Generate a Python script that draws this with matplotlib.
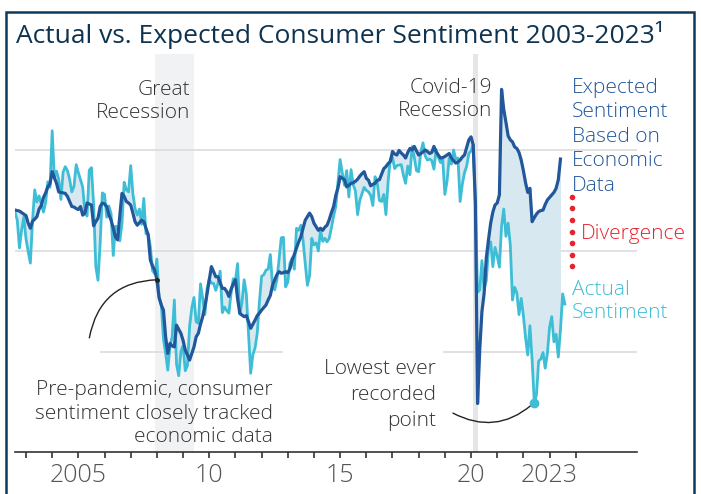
import numpy as np
import matplotlib
matplotlib.use('Agg')
import matplotlib.pyplot as plt
from matplotlib.patches import Rectangle

plt.rcParams['font.family'] = ['Open Sans', 'DejaVu Sans']

# monthly series, first value = Aug 2002
start_year, start_month = 2002, 8

actual = [
    87.6, 86.1, 80.6, 84.2, 86.7,                                      # 2002 (Aug-Dec)
    82.4, 79.9, 77.6, 86.0, 92.1, 89.7, 90.9, 89.3, 87.7, 89.6, 93.7, 92.6,   # 2003
    103.8, 94.4, 95.8, 94.2, 90.2, 95.6, 96.7, 95.9, 94.2, 91.7, 92.8, 97.1,  # 2004
    95.5, 94.1, 92.6, 87.7, 86.9, 96.0, 96.5, 89.1, 76.9, 74.2, 81.6, 91.5,   # 2005
    91.2, 86.7, 88.9, 87.4, 79.1, 84.9, 84.7, 82.0, 85.4, 93.6, 92.1, 91.7,   # 2006
    96.9, 91.3, 88.4, 87.1, 88.3, 85.3, 90.4, 83.4, 83.4, 80.9, 76.1, 75.5,   # 2007
    78.4, 70.8, 69.5, 62.6, 59.8, 56.4, 61.2, 63.0, 70.3, 57.6, 55.3, 60.1,   # 2008
    61.2, 56.3, 57.3, 65.1, 68.7, 70.8, 66.0, 65.7, 73.5, 70.6, 67.4, 72.5,   # 2009
    74.4, 73.6, 73.6, 72.2, 73.6, 76.0, 67.8, 68.9, 68.2, 67.7, 71.6, 74.5,   # 2010
    74.2, 77.5, 67.5, 69.8, 74.3, 71.5, 63.7, 55.8, 59.5, 60.8, 63.7, 69.9,   # 2011
    75.0, 75.3, 76.2, 76.4, 79.3, 73.2, 72.3, 74.3, 78.3, 82.6, 82.7, 72.9,   # 2012
    73.8, 77.6, 78.6, 76.4, 84.5, 84.1, 85.1, 82.1, 77.5, 73.2, 75.1, 82.5,   # 2013
    81.2, 81.6, 80.0, 84.1, 81.9, 82.5, 81.8, 82.5, 84.6, 86.9, 88.8, 93.6,   # 2014
    98.1, 95.4, 93.0, 95.9, 90.7, 96.1, 93.1, 91.9, 87.2, 90.0, 91.3, 92.6,   # 2015
    92.0, 91.7, 91.0, 89.0, 94.7, 93.5, 90.0, 89.8, 91.2, 87.2, 93.8, 98.2,   # 2016
    98.5, 96.3, 96.9, 97.0, 97.1, 95.0, 93.4, 96.8, 95.1, 100.7, 98.5, 95.9,  # 2017
    95.7, 99.7, 101.4, 98.8, 98.0, 98.2, 97.9, 96.2, 100.1, 98.6, 97.5, 98.3, # 2018
    91.2, 93.8, 98.4, 97.2, 100.0, 98.2, 98.4, 89.8, 93.2, 95.5, 96.8, 99.3,  # 2019
    99.8, 101.0, 89.1, 71.8, 72.3, 78.1, 72.5, 74.1, 80.4, 81.8, 76.9, 80.7,  # 2020
    79.0, 76.8, 84.9, 88.3, 82.9, 85.5, 81.2, 70.3, 72.8, 71.7, 67.4, 70.6,   # 2021
    67.2, 62.8, 59.4, 65.2, 58.4, 50.0, 51.5, 58.2, 58.6, 59.9, 56.8, 59.7,   # 2022
    64.9, 67.0, 62.0, 63.5, 59.0, 64.4, 71.5, 69.5,                           # 2023 (Jan-Aug)
]

expected = [
    88.1, 88.0, 87.9, 87.6, 87.3,                                      # 2002 (Aug-Dec)
    87.0, 85.5, 84.5, 85.9, 86.3, 86.8, 88.3, 89.0, 90.6, 91.5, 92.7, 93.3,   # 2003
    95.7, 94.5, 93.4, 91.7, 91.6, 91.5, 91.4, 90.8, 89.8, 88.8, 88.7, 88.4,   # 2004
    88.2, 88.8, 87.1, 87.5, 89.5, 89.3, 89.1, 85.0, 85.8, 86.5, 88.8, 89.5,   # 2005
    89.3, 88.8, 87.2, 86.1, 84.5, 82.8, 82.2, 87.0, 91.4, 90.8, 89.8, 89.5,   # 2006
    89.1, 87.5, 85.8, 85.1, 85.6, 86.1, 85.8, 84.5, 83.2, 78.2, 77.0, 76.2,   # 2007
    74.3, 70.8, 69.3, 68.3, 63.0, 59.7, 61.7, 61.2, 61.0, 65.3, 64.5, 63.7,   # 2008
    62.3, 60.4, 59.4, 58.4, 59.7, 61.0, 63.0, 63.7, 65.5, 67.0, 69.0, 71.5,   # 2009
    74.3, 76.9, 75.9, 74.9, 74.9, 73.7, 72.6, 72.6, 72.0, 71.0, 72.4, 73.5,   # 2010
    74.3, 70.5, 67.7, 67.3, 67.0, 67.2, 66.0, 64.7, 65.5, 66.3, 67.2, 67.7,   # 2011
    68.3, 68.8, 69.3, 70.3, 71.2, 73.2, 74.3, 75.3, 75.9, 75.6, 75.7, 75.9,   # 2012
    75.7, 76.5, 78.2, 79.3, 80.6, 81.8, 82.8, 84.5, 86.1, 86.8, 87.5, 86.8,   # 2013
    85.5, 84.8, 84.1, 84.5, 84.1, 84.7, 85.1, 86.2, 87.6, 88.8, 91.0, 92.5,   # 2014
    94.7, 94.4, 94.1, 92.7, 93.0, 93.4, 93.5, 93.8, 94.2, 94.8, 95.3, 95.7,   # 2015
    94.4, 94.0, 92.9, 93.2, 93.4, 94.0, 94.1, 95.2, 96.3, 96.7, 97.3, 97.7,   # 2016
    99.7, 99.2, 99.0, 99.9, 99.4, 99.0, 98.4, 99.5, 100.3, 100.0, 100.7, 99.8,  # 2017
    99.0, 99.3, 99.6, 100.0, 99.7, 99.3, 99.5, 100.7, 99.6, 99.0, 98.4, 98.5,  # 2018
    98.7, 99.0, 99.3, 98.4, 97.9, 97.4, 97.6, 98.0, 98.6, 99.0, 100.5, 102.0,  # 2019
    102.6, 101.0, 89.5, 49.8, 60.5, 68.0, 71.6, 78.6, 82.2, 85.5, 87.7, 89.1,  # 2020
    89.5, 91.1, 112.0, 108.0, 105.5, 102.8, 102.0, 101.6, 100.6, 100.3, 99.5, 98.0,  # 2021
    95.9, 93.5, 91.6, 92.4, 85.8, 86.6, 87.3, 87.8, 88.0, 88.1, 89.2, 90.1,   # 2022
    90.6, 91.1, 91.6, 92.4, 94.1, 98.2,                                       # 2023 (Jan-Jun)
]

great_recession = (2007.917, 2009.417)
covid_recession = (2020.083, 2020.25)
grid_levels = [100, 80, 60]
tick_years = list(range(2003, 2025))
tick_labels = {2005: '2005', 2010: '10', 2015: '15', 2020: '20', 2023: '2023'}

EXP = '#22579b'
ACT = '#3dbdd6'
FILL = '#d7e8f0'
GRID = '#dcdcdc'
TXT = '#333333'
RED = '#e8212b'

months = start_year + (start_month - 1 + np.arange(len(actual))) / 12
n = len(expected)

fig = plt.figure(figsize=(7.01, 4.94), dpi=100)
W, H = 701, 494
ax = fig.add_axes([15 / W, 1 - 452 / H, (637 - 15) / W, (452 - 54) / H])
ax.set_xlim(2002.58, 2026.34)
ax.set_ylim(40.2, 119.0)

# recession bands
ax.axvspan(*great_recession, color='#f1f2f4', lw=0, zorder=0)
ax.axvspan(*covid_recession, color='#e6e6e6', lw=0, zorder=0)

# gridlines (the 60 line is broken around the annotation text)
ax.hlines(grid_levels[:2], 2002.58, 2026.34, color=GRID, lw=1.2, zorder=0.5)
ax.hlines(grid_levels[2], 2005.84, 2012.82, color=GRID, lw=1.2, zorder=0.5)
ax.hlines(grid_levels[2], 2018.93, 2026.34, color=GRID, lw=1.2, zorder=0.5)

ax.fill_between(months[:n], actual[:n], expected, color=FILL, lw=0, zorder=1)
ax.plot(months, actual, color=ACT, lw=2.0, zorder=2)
ax.plot(months[:n], expected, color=EXP, lw=2.3, zorder=3)

# lowest ever point
lo = int(np.argmin(actual))
ax.plot(months[lo], actual[lo], 'o', color=ACT, ms=6, zorder=4)
ax.annotate('', xy=(months[lo], actual[lo]), xytext=(2019.31, 47.9),
            arrowprops=dict(arrowstyle='-', connectionstyle='arc3,rad=0.35',
                            color='#222222', lw=1, shrinkA=0, shrinkB=3))

# pre-pandemic pointer
i08 = (2008 - start_year) * 12 + (1 - start_month)
ax.plot(months[i08], expected[i08], 'o', color='#222222', ms=2.5, zorder=5)
ax.annotate('', xy=(months[i08], expected[i08]), xytext=(2005.42, 62.8),
            arrowprops=dict(arrowstyle='-', connectionstyle='arc3,rad=-0.4',
                            color='#222222', lw=1, shrinkA=0, shrinkB=0))

# divergence dots
ax.scatter(np.full(7, 2023.86), np.linspace(77.0, 90.7, 7), s=16, color=RED,
           lw=0, clip_on=False, zorder=5)

kw = dict(fontsize=15, fontweight='light', linespacing=1.25, clip_on=False)
ax.text(2009.27, 109.6, 'Great\nRecession', ha='right', va='center', color=TXT, **kw)
ax.text(2020.80, 110.0, 'Covid-19\nRecession', ha='right', va='center', color=TXT, **kw)
ax.text(2023.84, 102.6, 'Expected\nSentiment\nBased on\nEconomic\nData',
        ha='left', va='center', color=EXP, **dict(kw, linespacing=1.3))
ax.text(2024.2, 83.4, 'Divergence', ha='left', va='center', color=RED, **kw)
ax.text(2023.84, 70.0, 'Actual\nSentiment', ha='left', va='center', color=ACT, **kw)
ax.text(2012.44, 47.8, 'Pre-pandemic, consumer\nsentiment closely tracked\neconomic data',
        ha='right', va='center', color=TXT, **kw)
ax.text(2018.66, 51.5, 'Lowest ever\nrecorded\npoint', ha='right', va='center',
        color=TXT, **dict(kw, linespacing=1.4))

for s in ['left', 'right', 'top']:
    ax.spines[s].set_visible(False)
ax.spines['bottom'].set_color('#333333')
ax.spines['bottom'].set_linewidth(1.2)
ax.set_yticks([])
ax.set_xticks(tick_years)
ax.set_xticklabels([tick_labels.get(y, '') for y in tick_years])
ax.tick_params(axis='x', length=4, width=1.2, color='#333333', labelsize=18,
               labelcolor='#555555', pad=4)
for lab in ax.get_xticklabels():
    lab.set_fontweight('light')

fig.text(16 / W, 1 - 43 / H, 'Actual vs. Expected Consumer Sentiment 2003-2023\u00b9',
         ha='left', va='baseline', fontsize=19, color='#0e3350')

fig.patches.append(Rectangle((6 / W, -0.1), 688 / W, (1 - 12 / H) + 0.1,
                             transform=fig.transFigure, fill=False,
                             ec='#0f3a5c', lw=1.8))

fig.savefig('out.png', dpi=100)
